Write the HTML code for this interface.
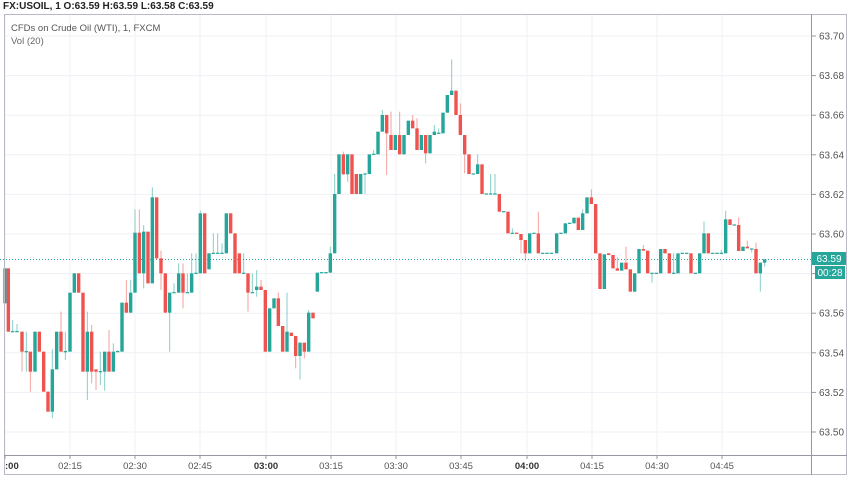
<!DOCTYPE html>
<html><head><meta charset="utf-8"><style>
html,body{margin:0;padding:0;background:#fff;width:852px;height:485px;overflow:hidden;font-family:"Liberation Sans",sans-serif}
</style></head><body>
<svg id="s" width="852" height="485" xmlns="http://www.w3.org/2000/svg" style="position:absolute;left:0;top:0">
<rect x="0" y="0" width="852" height="485" fill="#fff"/>
<g id="grid" stroke="#eef1f6" stroke-width="1"></g>
<line x1="0" y1="259.5" x2="812" y2="259.5" stroke="#26a69a" stroke-width="1" stroke-dasharray="1,2"/>
<g id="c"></g>
<rect x="4.5" y="14.5" width="842" height="460" fill="none" stroke="#b8bbc4"/>
<line x1="811.5" y1="14" x2="811.5" y2="475" stroke="#9598a1"/>
<line x1="4" y1="455.5" x2="847" y2="455.5" stroke="#9598a1"/>
<g id="ax" font-size="10" fill="#555"></g>
<text x="3" y="9" font-size="10" fill="#222" font-weight="bold">FX:USOIL, 1 O:63.59 H:63.59 L:63.58 C:63.59</text>
<text x="11" y="31" font-size="9.5" fill="#555">CFDs on Crude Oil (WTI), 1, FXCM</text>
<text x="11" y="44" font-size="9.5" fill="#666">Vol (20)</text>
<rect x="812" y="252" width="34" height="13" fill="#26a69a"/>
<text x="829" y="262" font-size="10" fill="#fff" text-anchor="middle">63.59</text>
<rect x="815" y="266" width="30" height="13" fill="#26a69a"/>
<text x="830" y="276" font-size="10" fill="#fff" text-anchor="middle">00:28</text>
</svg>
<script>
var NS="http://www.w3.org/2000/svg";
function el(p,t,a,txt){var e=document.createElementNS(NS,t);for(var k in a)e.setAttribute(k,a[k]);if(txt)e.textContent=txt;p.appendChild(e);return e;}
var grid=document.getElementById('grid'),ax=document.getElementById('ax'),cg=document.getElementById('c');
var prices=["63.70","63.68","63.66","63.64","63.62","63.60","63.58","63.56","63.54","63.52","63.50"];
for(var i=0;i<11;i++){var y=36+i*39.6;el(grid,'line',{x1:4,y1:y,x2:812,y2:y});
 el(ax,'line',{x1:812,y1:y,x2:816,y2:y,stroke:'#9598a1'});
 if(i!=6) el(ax,'text',{x:819,y:y+3.5},prices[i]);}
var times=[[5,":00",1],[70,"02:15"],[135,"02:30"],[200,"02:45"],[266,"03:00",1],[331,"03:15"],[396,"03:30"],[461,"03:45"],[527,"04:00",1],[592,"04:15"],[657,"04:30"],[722,"04:45"]];
times.forEach(function(t){el(grid,'line',{x1:t[0],y1:14,x2:t[0],y2:455});
 el(ax,'line',{x1:t[0],y1:455,x2:t[0],y2:459,stroke:'#9598a1'});
 var e=el(ax,'text',{x:t[0],y:469,'text-anchor':t[1]==":00"?'start':'middle','font-size':9.5},t[1]);
 if(t[2]){e.setAttribute('font-weight','bold');e.setAttribute('fill','#333');}});
function C(x,o,c,h,l){var up=c<=o;var col=up?'#26a69a':'#ef5350';
 if(h===undefined)h=Math.min(o,c);if(l===undefined)l=Math.max(o,c);
 el(cg,'line',{x1:x,y1:h,x2:x,y2:l,stroke:col,'stroke-opacity':0.55,'stroke-width':1});
 var t=Math.min(o,c),b=Math.max(o,c);if(b-t<1.2){t-=0.6;b+=0.6;}
 el(cg,'rect',{x:x-1.7,y:t,width:3.4,height:b-t,fill:col});}
// zoom2: real x=zx/3, y=180+zy/3
var z2=[[15,370,265],[25,265,455,265,455],[38,455,455,420],[51,455,455,432],[66,455,515,455,575],[79,515,515,455,575],[91,515,575,515,635],[105,575,455],[118,455,515],[131,515,635],[144,635,695],[157,695,568,508,715],[170,568,455],[183,455,515,395],[196,515,515,455,540],[210,515,338],[223,338,280],[236,280,338],[249,338,575],[262,575,455,395,660],[275,455,575,435,610],[288,568,575,568,630],[301,575,575,515,615],[314,575,515,515,632],[327,515,575,450],[340,575,515,490],[353,515,515,510],[366,515,368],[379,368,398,300],[392,398,338,300],[405,338,158,88],[418,158,280,88],[431,280,155,135,325],[444,155,310],[457,310,52,22],[470,52,235,52,240],[483,235,280,212,330],[496,280,398],[509,398,338,338,515],[522,338,338,310],[536,338,280,250],[549,280,338,250,385],[562,338,338,280],[575,338,280,220],[588,280,280,220],[601,280,100,92],[614,100,280],[627,268,220],[640,220,220,160],[653,220,220,160],[666,220,220,190],[679,220,100],[692,100,160],[705,160,280],[718,220,280],[731,280,280,220],[744,280,338,280,395],[757,338,338,280],[770,330,320,270,350],[783,320,330,300],[796,330,515],[809,515,385],[822,385,355],[835,355,438,338],[848,438,515],[861,515,455,338],[874,458,468],[887,468,528,468,565],[900,528,488,488,598],[913,488,515,488,535],[926,515,398,390],[939,398,415]];
z2.forEach(function(d){C(d[0]/3,180+d[1]/3,180+d[2]/3,d[3]!==undefined?180+d[3]/3:undefined,d[4]!==undefined?180+d[4]/3:undefined);});
// zoom4: x=300+zx/3, y=50+zy/3
var z4=[[52,725,668],[65,668,668],[78,668,668],[91,668,610,590],[104,610,432,372],[117,432,313],[130,313,373,305],[143,373,313,313,395],[156,313,432],[169,372,432],[182,432,372],[195,372,372,372,432],[208,372,313],[221,313,313,300],[234,313,245],[247,245,195,180],[260,195,250,195,375],[273,255,300,185],[286,300,255],[299,255,313,185],[312,313,255],[325,255,212,212],[338,212,235,195],[351,235,300,205],[364,300,255],[377,255,310,255,340],[390,310,255],[403,255,245,225],[416,250,250,235],[429,250,188],[442,188,135],[455,135,122,28],[468,122,195],[481,195,255,160],[494,255,313,255,370],[507,313,372],[520,372,372],[533,372,343,313],[546,343,432],[559,432,432],[572,432,432,372],[585,432,432,372],[598,432,485],[611,485,485],[624,485,550],[637,550,550,535],[650,548,552],[663,552,570,552,610],[676,570,610,570,632],[689,610,550],[702,550,550],[715,550,610,485],[728,610,610],[741,610,610],[754,610,610]];
z4.forEach(function(d){C(300+d[0]/3,50+d[1]/3,50+d[2]/3,d[3]!==undefined?50+d[3]/3:undefined,d[4]!==undefined?50+d[4]/3:undefined);});
// zoom5: x=540+zx/3, y=170+zy/3
var z5=[[50,250,190],[63,190,190],[76,190,160],[89,160,160],[102,160,143],[115,143,180],[128,180,130,118],[141,130,82],[154,82,102,58],[167,102,250],[180,250,357],[193,357,253],[206,250,255],[219,255,295],[232,295,302,262],[245,302,278],[258,278,298,230],[271,298,365],[284,365,310],[297,310,237],[310,237,242,225],[323,242,310],[336,310,310,310,338],[349,310,310],[362,310,237],[375,237,250],[388,250,310],[401,310,310,250],[414,310,250],[427,250,250],[440,250,250],[453,250,310],[466,310,310],[479,310,250],[492,250,190,155],[505,190,250],[518,250,250],[531,250,250],[544,250,250,240],[557,250,148,122],[570,148,165],[583,165,165],[596,165,243,142],[609,243,230],[622,230,235,212],[635,237,237,237,248],[648,237,310,218],[661,310,278,278,365],[674,278,268,268,290]];
z5.forEach(function(d){C(540+d[0]/3,170+d[1]/3,170+d[2]/3,d[3]!==undefined?170+d[3]/3:undefined,d[4]!==undefined?170+d[4]/3:undefined);});
</script>
</body></html>
